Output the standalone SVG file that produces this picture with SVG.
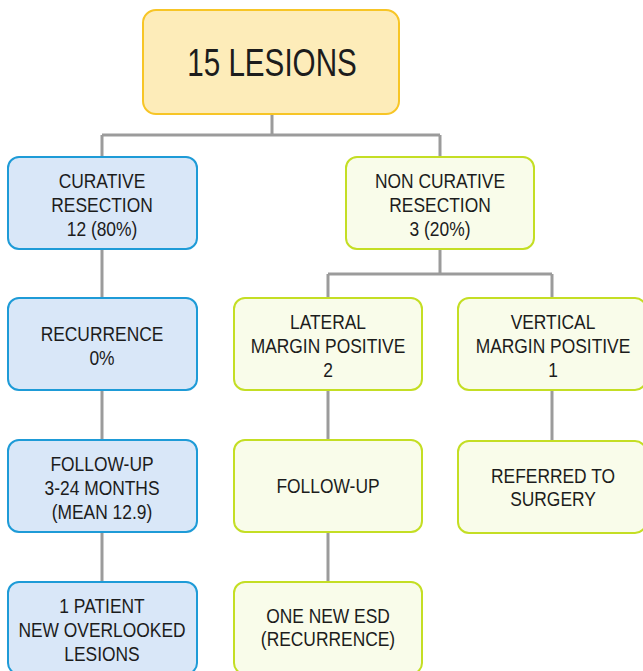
<svg xmlns="http://www.w3.org/2000/svg" width="643" height="671" viewBox="0 0 643 671">
<style>
.t{font-family:"Liberation Sans",Arial,sans-serif;font-size:20px;fill:#1c1c1c;text-anchor:middle}
.big{font-size:39px}
.y{fill:#fdecb9;stroke:#f7c526;stroke-width:2}
.b{fill:#d9e7f8;stroke:#1e9bd7;stroke-width:2}
.g{fill:#f9fcea;stroke:#c4de24;stroke-width:2}
.c{fill:none;stroke:#9b9b9b;stroke-width:3}
</style>
<rect width="643" height="671" fill="#ffffff"/>
<g id="connectors">
<path class="c" d="M272 114V135M102 135H440M102 135V157M440 135V157"/>
<path class="c" d="M440 249V274M328 274H552M328 274V298M552 274V298"/>
<path class="c" d="M102 249V298M102 390V440M102 532V582"/>
<path class="c" d="M328 390V440M328 532V582"/>
<path class="c" d="M552 390V440"/>
</g>
<g id="n-lesions">
<rect class="y" x="143" y="10" width="256" height="104" rx="13"/>
<text class="t big" transform="translate(272 76) scale(0.76 1)">15 LESIONS</text>
</g>
<g id="n-curative">
<rect class="b" x="8" y="157" width="189" height="92" rx="11"/>
<text class="t" transform="translate(102 188) scale(0.87 1)">CURATIVE</text>
<text class="t" transform="translate(102 212) scale(0.87 1)">RESECTION</text>
<text class="t" transform="translate(102 236) scale(0.87 1)">12 (80%)</text>
</g>
<g id="n-recurrence">
<rect class="b" x="8" y="298" width="189" height="92" rx="11"/>
<text class="t" transform="translate(102 341) scale(0.87 1)">RECURRENCE</text>
<text class="t" transform="translate(102 365) scale(0.87 1)">0%</text>
</g>
<g id="n-followup-left">
<rect class="b" x="8" y="440" width="189" height="92" rx="11"/>
<text class="t" transform="translate(102 471) scale(0.87 1)">FOLLOW-UP</text>
<text class="t" transform="translate(102 495) scale(0.87 1)">3-24 MONTHS</text>
<text class="t" transform="translate(102 519) scale(0.87 1)">(MEAN 12.9)</text>
</g>
<g id="n-patient">
<rect class="b" x="8" y="582" width="189" height="92" rx="11"/>
<text class="t" transform="translate(102 613) scale(0.87 1)">1 PATIENT</text>
<text class="t" transform="translate(102 637) scale(0.87 1)">NEW OVERLOOKED</text>
<text class="t" transform="translate(102 661) scale(0.87 1)">LESIONS</text>
</g>
<g id="n-noncurative">
<rect class="g" x="346" y="157" width="188" height="92" rx="11"/>
<text class="t" transform="translate(440 188) scale(0.87 1)">NON CURATIVE</text>
<text class="t" transform="translate(440 212) scale(0.87 1)">RESECTION</text>
<text class="t" transform="translate(440 236) scale(0.87 1)">3 (20%)</text>
</g>
<g id="n-lateral">
<rect class="g" x="234" y="298" width="188" height="92" rx="11"/>
<text class="t" transform="translate(328 329) scale(0.87 1)">LATERAL</text>
<text class="t" transform="translate(328 353) scale(0.87 1)">MARGIN POSITIVE</text>
<text class="t" transform="translate(328 377) scale(0.87 1)">2</text>
</g>
<g id="n-vertical">
<rect class="g" x="458" y="298" width="188" height="92" rx="11"/>
<text class="t" transform="translate(553 329) scale(0.87 1)">VERTICAL</text>
<text class="t" transform="translate(553 353) scale(0.87 1)">MARGIN POSITIVE</text>
<text class="t" transform="translate(553 377) scale(0.87 1)">1</text>
</g>
<g id="n-followup-right">
<rect class="g" x="234" y="440" width="188" height="92" rx="11"/>
<text class="t" transform="translate(328 493) scale(0.87 1)">FOLLOW-UP</text>
</g>
<g id="n-referred">
<rect class="g" x="458" y="441" width="188" height="92" rx="11"/>
<text class="t" transform="translate(553 483) scale(0.87 1)">REFERRED TO</text>
<text class="t" transform="translate(553 506) scale(0.87 1)">SURGERY</text>
</g>
<g id="n-esd">
<rect class="g" x="234" y="582" width="188" height="92" rx="11"/>
<text class="t" transform="translate(328 623) scale(0.87 1)">ONE NEW ESD</text>
<text class="t" transform="translate(328 646) scale(0.87 1)">(RECURRENCE)</text>
</g>
</svg>
